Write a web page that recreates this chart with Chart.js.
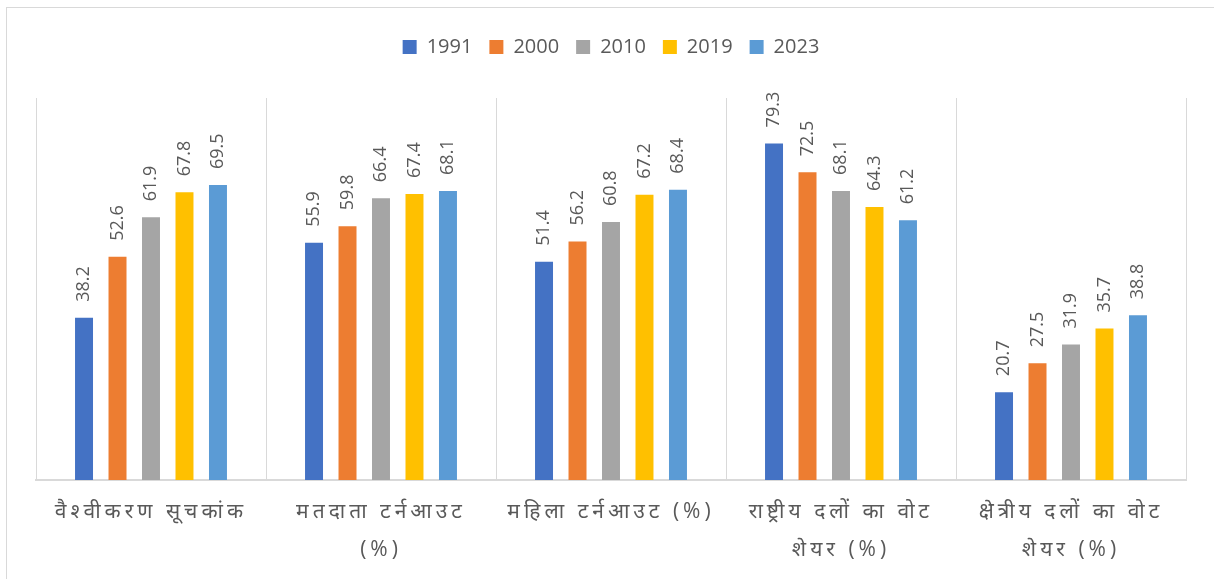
<!DOCTYPE html>
<html>
<head>
<meta charset="utf-8">
<script src="https://cdn.jsdelivr.net/npm/chart.js@4.4.0/dist/chart.umd.min.js"></script>
<style>
  html, body { margin: 0; padding: 0; background: #fff; }
  #wrap { position: relative; width: 1214px; height: 579px; overflow: hidden; }
  #frame { position: absolute; left: 6px; top: 7px; width: 1220px; height: 590px; border: 1px solid #d9d9d9; }
  canvas { position: absolute; left: 0; top: 0; }
</style>
</head>
<body>
<div id="wrap">
  <div id="frame"></div>
  <canvas id="barChart" width="1214" height="579"></canvas>
</div>
<script>
// categories (x axis)
const categories = [
  ["वैश्वीकरण सूचकांक"],
  ["मतदाता टर्नआउट", "(%)"],
  ["महिला टर्नआउट (%)"],
  ["राष्ट्रीय दलों का वोट", "शेयर (%)"],
  ["क्षेत्रीय दलों का वोट", "शेयर (%)"]
];

// series values
const years = ["1991", "2000", "2010", "2019", "2023"];
const v1991 = [38.2, 55.9, 51.4, 79.3, 20.7];
const v2000 = [52.6, 59.8, 56.2, 72.5, 27.5];
const v2010 = [61.9, 66.4, 60.8, 68.1, 31.9];
const v2019 = [67.8, 67.4, 67.2, 64.3, 35.7];
const v2023 = [69.5, 68.1, 68.4, 61.2, 38.8];

const colors = ["#4472C4", "#ED7D31", "#A5A5A5", "#FFC000", "#5B9BD5"];
const series = [v1991, v2000, v2010, v2019, v2023];

const textColor = "#595959";
const fontFamily = "'Open Sans', 'Noto Sans', 'Noto Sans Devanagari', sans-serif";

// rotated value labels above every bar
const valueLabels = {
  id: "valueLabels",
  afterDatasetsDraw(chart) {
    const ctx = chart.ctx;
    chart.data.datasets.forEach(function (ds, i) {
      const meta = chart.getDatasetMeta(i);
      meta.data.forEach(function (bar, j) {
        ctx.save();
        ctx.translate(bar.x, bar.y - 16);
        ctx.rotate(-Math.PI / 2);
        ctx.font = "18px " + fontFamily;
        ctx.fillStyle = textColor;
        ctx.textAlign = "left";
        ctx.textBaseline = "middle";
        ctx.fillText(ds.data[j].toFixed(1), 0, 0);
        ctx.restore();
      });
    });
  }
};

// spaced-out category labels and a taller legend block
const layoutTweaks = {
  id: "layoutTweaks",
  afterInit(chart) {
    const legend = chart.legend;
    const fit = legend.fit;
    legend.fit = function () {
      fit.call(this);
      this.height += 31;
    };
  },
  afterUpdate(chart) {
    const scale = chart.scales.x;
    if (scale._spaced) return;
    const orig = scale.drawLabels.bind(scale);
    scale.drawLabels = function (area) {
      const ctx = this.ctx;
      ctx.save();
      ctx.letterSpacing = "4px";
      orig(area);
      ctx.restore();
    };
    scale._spaced = true;
  }
};

const ctx = document.getElementById("barChart").getContext("2d");
new Chart(ctx, {
  type: "bar",
  data: {
    labels: categories,
    datasets: years.map(function (y, i) {
      return {
        label: y,
        data: series[i],
        backgroundColor: colors[i],
        borderWidth: 0,
        categoryPercentage: 0.728,
        barPercentage: 0.537
      };
    })
  },
  options: {
    responsive: false,
    animation: false,
    layout: { padding: { left: 36, right: 28, top: 20, bottom: 0 } },
    plugins: {
      tooltip: { enabled: false },
      legend: {
        position: "top",
        labels: {
          boxWidth: 14,
          boxHeight: 14,
          padding: 17,
          color: textColor,
          font: { size: 20, family: fontFamily }
        }
      }
    },
    scales: {
      x: {
        grid: { display: true, color: "#d9d9d9", lineWidth: 1, drawTicks: false, offset: true },
        border: { display: true, color: "#d9d9d9", width: 2 },
        ticks: {
          color: textColor,
          padding: 13,
          maxRotation: 0,
          autoSkip: false,
          font: { size: 21, family: fontFamily, lineHeight: 1.8 }
        },
        afterFit: function (scale) { scale.height = 99; }
      },
      y: {
        display: false,
        min: 0,
        max: 90
      }
    }
  },
  plugins: [valueLabels, layoutTweaks]
});
</script>
</body>
</html>
